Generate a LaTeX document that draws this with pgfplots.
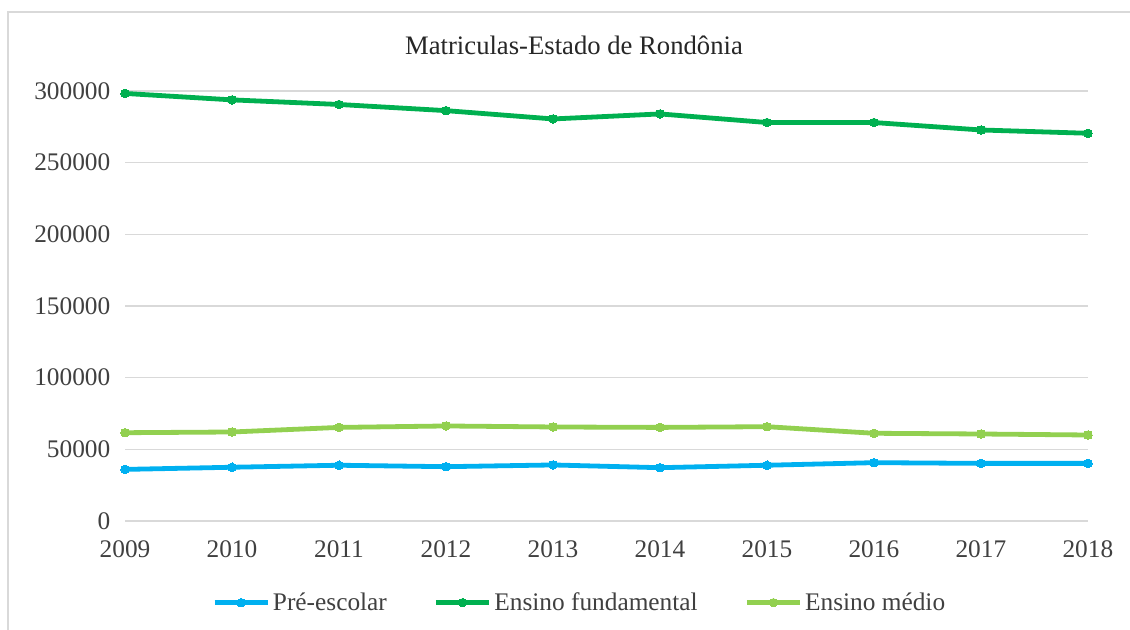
\documentclass[border=0pt]{standalone}
\usepackage{fontspec}
\setmainfont{Liberation Serif}
\usepackage{pgfplots}
\pgfplotsset{compat=1.18}
\definecolor{cblue}{HTML}{00B0F0}
\definecolor{cgreen}{HTML}{00B050}
\definecolor{clight}{HTML}{92D050}
\definecolor{gridc}{HTML}{D9D9D9}
\definecolor{txt}{HTML}{404040}
\begin{document}
\begin{tikzpicture}
\begin{scope}[x=0.75pt,y=-0.75pt]
\useasboundingbox (0,0) rectangle (1130,630);
\draw[gridc, line width=1.5pt] (8,640) -- (8,12) -- (1140,12);
\node[font=\fontsize{20}{24}\selectfont, text=black!85] at (574,45) {Matriculas-Estado de Rondônia};
\end{scope}
\begin{axis}[
  at={(93.75pt,-390.75pt)}, anchor=south west,
  scale only axis, width=722.25pt, height=322.5pt,
  xmin=2009, xmax=2018, ymin=0, ymax=300000,
  xtick={2009,...,2018}, ytick={0,50000,...,300000},
  axis y line*=left, axis x line*=bottom,
  x axis line style={gridc, line width=1pt, -},
  y axis line style={draw=none},
  ymajorgrids, grid style={gridc, line width=1pt},
  major tick length=0pt,
  scaled y ticks=false,
  /pgf/number format/assume math mode=true,
  /pgf/number format/fixed,
  /pgf/number format/precision=0,
  /pgf/number format/1000 sep={},
  ticklabel style={font=\fontsize{19}{22}\selectfont, text=txt},
  yticklabel style={xshift=-7.5pt, /pgf/number format/fixed, /pgf/number format/1000 sep={}},
  xticklabel style={yshift=-11pt, /pgf/number format/fixed, /pgf/number format/1000 sep={}},
  clip=false,
  legend columns=3,
  legend style={draw=none, fill=none, at={(0.4725,-0.19)}, anchor=center,
    font=\fontsize{19}{22}\selectfont, text=txt,
    nodes={inner xsep=2pt},
    /tikz/every even column/.append style={column sep=33pt}},
  legend image code/.code={\draw[mark repeat=2,mark phase=2,#1] plot coordinates {(0pt,0pt) (20pt,0pt) (40pt,0pt)};},
]
\addplot[cblue, line width=3.6pt, line join=round, mark=*, mark size=3.2pt, mark options={fill=cblue, draw=cblue, line width=0pt}] coordinates {
(2009,36000) (2010,37500) (2011,38900) (2012,37900) (2013,39100) (2014,37200) (2015,38900) (2016,40700) (2017,40200) (2018,40200)};
\addlegendentry{Pré-escolar}
\addplot[cgreen, line width=3.6pt, line join=round, mark=*, mark size=3.2pt, mark options={fill=cgreen, draw=cgreen, line width=0pt}] coordinates {
(2009,298300) (2010,293800) (2011,290600) (2012,286300) (2013,280500) (2014,284000) (2015,278000) (2016,278000) (2017,272800) (2018,270500)};
\addlegendentry{Ensino fundamental}
\addplot[clight, line width=3.6pt, line join=round, mark=*, mark size=3.2pt, mark options={fill=clight, draw=clight, line width=0pt}] coordinates {
(2009,61600) (2010,62100) (2011,65300) (2012,66300) (2013,65600) (2014,65300) (2015,65800) (2016,61200) (2017,60700) (2018,60000)};
\addlegendentry{Ensino médio}
\end{axis}
\end{tikzpicture}
\end{document}
